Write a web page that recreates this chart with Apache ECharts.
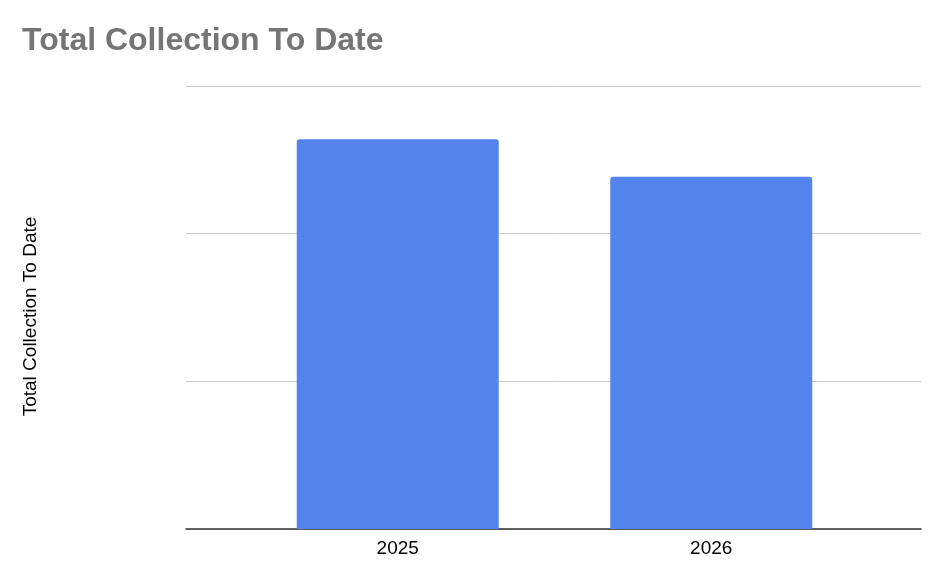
<!DOCTYPE html>
<html>
<head>
<meta charset="utf-8">
<script src="https://cdn.jsdelivr.net/npm/echarts@6/dist/echarts.min.js"></script>
<style>
  html, body { margin: 0; padding: 0; background: #fff; }
  #chart { width: 948px; height: 586px; }
</style>
</head>
<body>
<div id="chart"></div>
<script>
const years = ["2025", "2026"]
const collection = [2.64, 2.385]
const axisTicks = [0, 1, 2, 3]

const chart = echarts.init(document.getElementById("chart"))

const option = {
    animation: false,
    backgroundColor: "#fff",
    title: {
        text: "Total Collection To Date",
        left: 17,
        top: 20,
        textStyle: {
            fontFamily: "Liberation Sans, Arial, sans-serif",
            fontSize: 32,
            fontWeight: "bold",
            color: "#757575"
        }
    },
    // grid 0 carries the gridlines and baseline, grid 1 the bars
    grid: [
        { left: 186, right: 27, top: 86, bottom: 57 },
        { left: 241, right: 80, top: 86, bottom: 57 }
    ],
    xAxis: [
        {
            type: "category",
            gridIndex: 0,
            data: years,
            axisLine: { show: true, lineStyle: { color: "#333", width: 1.5 } },
            axisTick: { show: false },
            axisLabel: { show: false }
        },
        {
            type: "category",
            gridIndex: 1,
            data: years,
            axisLine: { show: false },
            axisTick: { show: false },
            axisLabel: {
                color: "#000",
                fontSize: 19,
                fontFamily: "Liberation Sans, Arial, sans-serif",
                margin: 10
            }
        }
    ],
    yAxis: [
        {
            type: "value",
            gridIndex: 0,
            min: axisTicks[0],
            max: axisTicks[axisTicks.length - 1],
            interval: 1,
            name: "Total Collection To Date",
            nameLocation: "middle",
            nameGap: 146,
            nameTextStyle: {
                color: "#000",
                fontSize: 19,
                fontFamily: "Liberation Sans, Arial, sans-serif",
                padding: [0, 18, 0, 0]
            },
            axisLine: { show: false },
            axisTick: { show: false },
            axisLabel: { show: false },
            splitLine: { lineStyle: { color: "#cccccc", width: 1 } }
        },
        {
            type: "value",
            gridIndex: 1,
            min: axisTicks[0],
            max: axisTicks[axisTicks.length - 1],
            interval: 1,
            axisLine: { show: false },
            axisTick: { show: false },
            axisLabel: { show: false },
            splitLine: { show: false }
        }
    ],
    series: [
        {
            type: "bar",
            xAxisIndex: 1,
            yAxisIndex: 1,
            data: collection,
            barWidth: 202,
            itemStyle: {
                color: "#5384ec",
                borderRadius: [3, 3, 0, 0]
            }
        }
    ]
}

chart.setOption(option)
</script>
</body>
</html>
